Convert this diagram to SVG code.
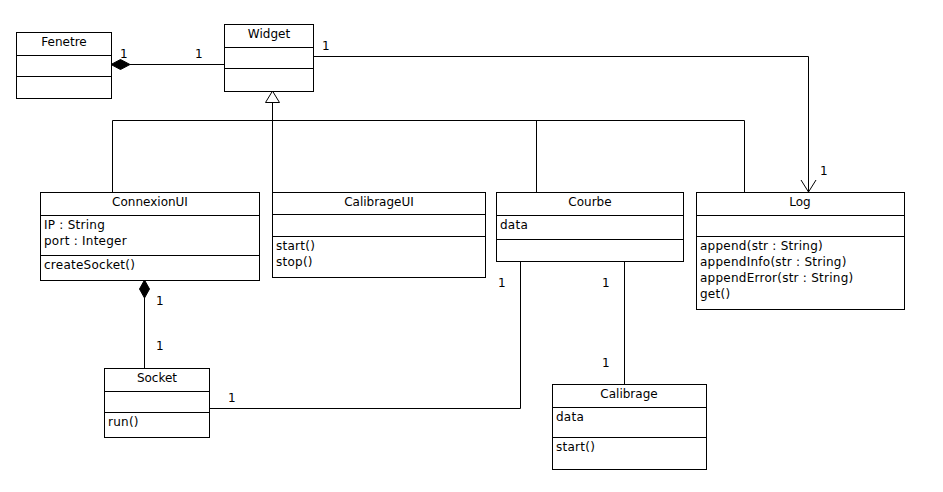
<svg xmlns="http://www.w3.org/2000/svg" width="943" height="492" viewBox="0 0 943 492">
<style>
rect.box{fill:#fff;stroke:#000;stroke-width:1}
line.sep{stroke:#000;stroke-width:1}
.conn line,.conn polyline{stroke:#000;stroke-width:1;fill:none}
text{font-family:"DejaVu Sans",sans-serif;font-size:12px;fill:#000}
text.t{text-anchor:middle}
text.m{letter-spacing:0.25px}
</style>
<rect width="943" height="492" fill="#fff"/>
<g class="conn" id="connectors">
<line x1="130" y1="64.5" x2="224" y2="64.5"/>
<polygon points="111,64.5 120.5,59.5 130,64.5 120.5,69.5" fill="#000" stroke="#000"/>
<polyline points="313,56.5 808.5,56.5 808.5,192"/>
<polyline points="801,180 808.5,192 816,180"/>
<line x1="272.5" y1="102.5" x2="272.5" y2="192"/>
<line x1="112.5" y1="120.5" x2="744.5" y2="120.5"/>
<line x1="112.5" y1="120.5" x2="112.5" y2="192"/>
<line x1="536.5" y1="120.5" x2="536.5" y2="192"/>
<line x1="744.5" y1="120.5" x2="744.5" y2="192"/>
<polygon points="272.5,91 265.5,102.5 279.5,102.5" fill="#fff" stroke="#000"/>
<line x1="144.5" y1="298" x2="144.5" y2="368"/>
<polygon points="144.5,280 149.5,289 144.5,298 139.5,289" fill="#000" stroke="#000"/>
<polyline points="209,408.5 520.5,408.5 520.5,261"/>
<line x1="624.5" y1="261" x2="624.5" y2="384"/>
<text x="120" y="58">1</text>
<text x="195" y="58">1</text>
<text x="322" y="50">1</text>
<text x="820" y="175">1</text>
<text x="156" y="305">1</text>
<text x="156" y="350">1</text>
<text x="228" y="402">1</text>
<text x="498" y="287">1</text>
<text x="602" y="287">1</text>
<text x="602" y="367">1</text>
</g>
<g id="Fenetre">
<rect class="box" x="16.5" y="32.5" width="95" height="66"/>
<line class="sep" x1="16.5" y1="55.5" x2="111.5" y2="55.5"/>
<line class="sep" x1="16.5" y1="76.5" x2="111.5" y2="76.5"/>
<text class="t" x="64" y="46">Fenetre</text>
</g>
<g id="Widget">
<rect class="box" x="224.5" y="24.5" width="89" height="67"/>
<line class="sep" x1="224.5" y1="47.5" x2="313.5" y2="47.5"/>
<line class="sep" x1="224.5" y1="68.5" x2="313.5" y2="68.5"/>
<text class="t" x="269" y="38">Widget</text>
</g>
<g id="ConnexionUI">
<rect class="box" x="40.5" y="192.5" width="219" height="88"/>
<line class="sep" x1="40.5" y1="215.5" x2="259.5" y2="215.5"/>
<line class="sep" x1="40.5" y1="255.5" x2="259.5" y2="255.5"/>
<text class="t" x="150" y="206">ConnexionUI</text>
<text class="m" x="44" y="229">IP : String</text>
<text class="m" x="44" y="245">port : Integer</text>
<text class="m" x="44" y="269">createSocket()</text>
</g>
<g id="CalibrageUI">
<rect class="box" x="272.5" y="192.5" width="213" height="85"/>
<line class="sep" x1="272.5" y1="214.5" x2="485.5" y2="214.5"/>
<line class="sep" x1="272.5" y1="236.5" x2="485.5" y2="236.5"/>
<text class="t" x="379" y="206">CalibrageUI</text>
<text class="m" x="276" y="250">start()</text>
<text class="m" x="276" y="266">stop()</text>
</g>
<g id="Courbe">
<rect class="box" x="496.5" y="192.5" width="187" height="69"/>
<line class="sep" x1="496.5" y1="215.5" x2="683.5" y2="215.5"/>
<line class="sep" x1="496.5" y1="239.5" x2="683.5" y2="239.5"/>
<text class="t" x="590" y="206">Courbe</text>
<text class="m" x="500" y="229">data</text>
</g>
<g id="Log">
<rect class="box" x="696.5" y="192.5" width="208" height="117"/>
<line class="sep" x1="696.5" y1="215.5" x2="904.5" y2="215.5"/>
<line class="sep" x1="696.5" y1="236.5" x2="904.5" y2="236.5"/>
<text class="t" x="800" y="206">Log</text>
<text class="m" x="700" y="250">append(str : String)</text>
<text class="m" x="700" y="266">appendInfo(str : String)</text>
<text class="m" x="700" y="282">appendError(str : String)</text>
<text class="m" x="700" y="298">get()</text>
</g>
<g id="Socket">
<rect class="box" x="104.5" y="368.5" width="105" height="69"/>
<line class="sep" x1="104.5" y1="391.5" x2="209.5" y2="391.5"/>
<line class="sep" x1="104.5" y1="412.5" x2="209.5" y2="412.5"/>
<text class="t" x="157" y="382">Socket</text>
<text class="m" x="108" y="426">run()</text>
</g>
<g id="Calibrage">
<rect class="box" x="552.5" y="384.5" width="154" height="85"/>
<line class="sep" x1="552.5" y1="407.5" x2="706.5" y2="407.5"/>
<line class="sep" x1="552.5" y1="437.5" x2="706.5" y2="437.5"/>
<text class="t" x="629" y="398">Calibrage</text>
<text class="m" x="556" y="421">data</text>
<text class="m" x="556" y="451">start()</text>
</g>
</svg>
